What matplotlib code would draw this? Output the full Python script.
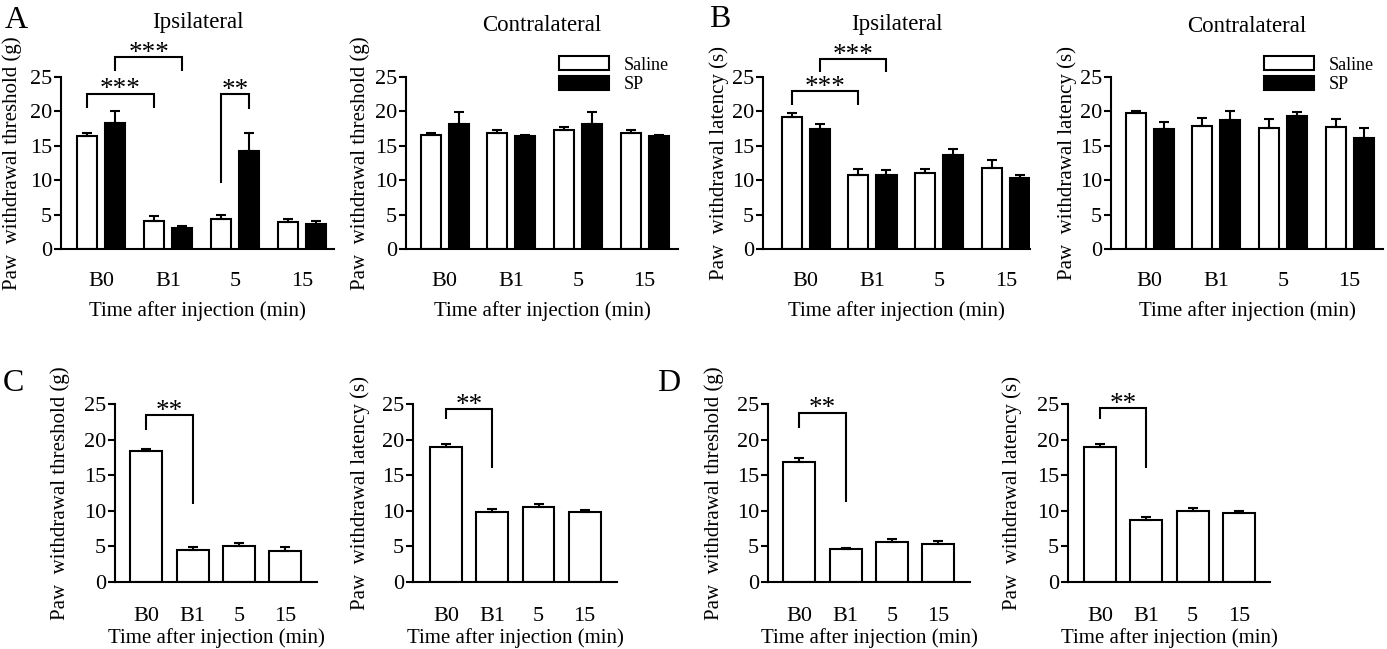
import matplotlib
matplotlib.use('Agg')
import matplotlib.pyplot as plt
import numpy as np
from matplotlib.patches import Patch

plt.rcParams['font.family'] = ['Liberation Serif', 'DejaVu Serif']

# ---------------- data ----------------
categories = ['B0', 'B1', '5', '15']
yticks = [0, 5, 10, 15, 20, 25]

A_ipsi_saline = [16.4, 4.1, 4.4, 3.9]
A_ipsi_saline_err = [0.4, 0.7, 0.6, 0.5]
A_ipsi_sp = [18.3, 3.1, 14.3, 3.7]
A_ipsi_sp_err = [1.8, 0.3, 2.6, 0.35]

A_contra_saline = [16.5, 16.9, 17.3, 16.9]
A_contra_saline_err = [0.4, 0.45, 0.45, 0.45]
A_contra_sp = [18.1, 16.4, 18.1, 16.4]
A_contra_sp_err = [1.8, 0.2, 1.8, 0.15]

B_ipsi_saline = [19.2, 10.8, 11.1, 11.8]
B_ipsi_saline_err = [0.5, 0.8, 0.6, 1.1]
B_ipsi_sp = [17.4, 10.7, 13.7, 10.3]
B_ipsi_sp_err = [0.8, 0.8, 0.9, 0.5]

B_contra_saline = [19.75, 17.9, 17.6, 17.8]
B_contra_saline_err = [0.25, 1.2, 1.25, 1.15]
B_contra_sp = [17.5, 18.8, 19.3, 16.2]
B_contra_sp_err = [0.9, 1.2, 0.6, 1.4]

C_threshold = [18.4, 4.5, 5.0, 4.4]
C_threshold_err = [0.35, 0.35, 0.45, 0.45]
C_latency = [18.9, 9.8, 10.6, 9.9]
C_latency_err = [0.45, 0.4, 0.35, 0.2]

D_threshold = [16.9, 4.6, 5.65, 5.4]
D_threshold_err = [0.45, 0.2, 0.35, 0.35]
D_latency = [19.0, 8.7, 10.0, 9.7]
D_latency_err = [0.35, 0.4, 0.45, 0.25]

# significance brackets: (group1, series1, group2, series2, top, left end, right end, label)
A_ipsi_sig = [(0, 0, 1, 0, 22.6, 20.5, 20.5, '***'),
              (0, 1, 1, 1, 27.9, 25.9, 25.9, '***'),
              (2, 0, 2, 1, 22.5, 9.6, 20.4, '**')]
B_ipsi_sig = [(0, 0, 1, 0, 23.0, 20.9, 20.9, '***'),
              (0, 1, 1, 1, 27.6, 25.7, 25.7, '***')]
C_thr_sig = [(0, 0, 1, 0, 23.4, 21.3, 10.9, '**')]
C_lat_sig = [(0, 0, 1, 0, 24.3, 22.9, 16.0, '**')]
D_thr_sig = [(0, 0, 1, 0, 23.8, 21.6, 11.3, '**')]
D_lat_sig = [(0, 0, 1, 0, 24.4, 22.9, 16.0, '**')]

series_names = ['Saline', 'SP']
xlabel = 'Time after injection (min)'
ylab_thr = 'Paw  withdrawal threshold (g)'
ylab_lat = 'Paw  withdrawal latency (s)'

# ---------------- figure ----------------
W, H = 1387, 649
fig = plt.figure(figsize=(W / 100, H / 100), dpi=100)
LW = 1.5


def add_ax(l, t, r, b):
    return fig.add_axes([l / W, 1 - b / H, (r - l) / W, (b - t) / H])


def style(ax, xlim, ylabel, ylab_x, xlab_top, tickpad):
    ax.set_xlim(*xlim)
    ax.set_ylim(0, 25)
    for s in ['top', 'right']:
        ax.spines[s].set_visible(False)
    for s in ['left', 'bottom']:
        ax.spines[s].set_linewidth(LW)
    ax.set_yticks(yticks)
    ax.set_xticks(np.arange(len(categories)))
    ax.set_xticklabels(categories)
    ax.tick_params(axis='y', direction='out', length=5, width=LW, pad=1.5, labelsize=16)
    ax.tick_params(axis='x', length=0, pad=tickpad, labelsize=16)
    ax.set_ylabel(ylabel, fontsize=15)
    ax.set_xlabel(xlabel, fontsize=15)
    bb = ax.get_position()
    ax.yaxis.set_label_coords(ylab_x / W, (bb.y0 + bb.y1) / 2, transform=fig.transFigure)
    ax.xaxis.set_label_coords((bb.x0 + bb.x1) / 2, 1 - xlab_top / H, transform=fig.transFigure)


def bracket(ax, xs, sig):
    for g1, s1, g2, s2, top, e1, e2, lab in sig:
        x1 = xs[s1][g1]
        x2 = xs[s2][g2]
        ax.plot([x1, x1, x2, x2], [e1, top, top, e2], color='black', lw=LW,
                clip_on=False, solid_capstyle='butt', solid_joinstyle='miter')
        ax.annotate(lab, xy=((x1 + x2) / 2, top), xytext=(0, -2.0),
                    textcoords='offset points', ha='center', va='baseline',
                    fontsize=19.5, annotation_clip=False)


def grouped(ax, saline, saline_err, sp, sp_err, off=0.21, w=0.3):
    x = np.arange(len(categories))
    xs = [x - off, x + off]
    ax.bar(xs[0], saline, w, color='white', edgecolor='black', linewidth=LW, zorder=2)
    ax.bar(xs[1], sp, w, color='black', edgecolor='black', linewidth=LW, zorder=2)
    for xx, v, e in [(xs[0], saline, saline_err), (xs[1], sp, sp_err)]:
        ax.errorbar(xx, v, yerr=[np.zeros(len(v)), e], fmt='none', ecolor='black',
                    elinewidth=LW, capsize=3.5, capthick=LW, zorder=3)
    return xs


def single(ax, vals, errs, w=0.69):
    x = np.arange(len(categories))
    ax.bar(x, vals, w, color='white', edgecolor='black', linewidth=LW, zorder=2)
    ax.errorbar(x, vals, yerr=[np.zeros(len(vals)), errs], fmt='none', ecolor='black',
                elinewidth=LW, capsize=3.5, capthick=LW, zorder=3)
    return [x]


def legend(ax):
    handles = [Patch(facecolor='white', edgecolor='black', linewidth=LW),
               Patch(facecolor='black', edgecolor='black', linewidth=LW)]
    ax.legend(handles, series_names, loc='upper left', bbox_to_anchor=(0.5625, 1.12),
              frameon=False, fontsize=13, handlelength=2.75, handleheight=0.8,
              handletextpad=0.85, labelspacing=0.15, borderpad=0, borderaxespad=0)


def title(ax, text, base_px):
    bb = ax.get_position()
    fig.text((bb.x0 + bb.x1) / 2, 1 - base_px / H, text, ha='center', va='baseline', fontsize=16.5)


# ---- Row 1 ----
axA1 = add_ax(61, 77, 334, 249)
style(axA1, (-0.6, 3.48), ylab_thr, 22, 301, 16.5)
xs = grouped(axA1, A_ipsi_saline, A_ipsi_saline_err, A_ipsi_sp, A_ipsi_sp_err)
bracket(axA1, xs, A_ipsi_sig)
title(axA1, 'Ipsilateral', 28)

axA2 = add_ax(406, 77, 678, 249)
style(axA2, (-0.58, 3.5), ylab_thr, 370, 301, 16.5)
grouped(axA2, A_contra_saline, A_contra_saline_err, A_contra_sp, A_contra_sp_err)
legend(axA2)
title(axA2, 'Contralateral', 31)

axB1 = add_ax(763, 77, 1030, 249)
style(axB1, (-0.64, 3.36), ylab_lat, 729, 301, 16.5)
xs = grouped(axB1, B_ipsi_saline, B_ipsi_saline_err, B_ipsi_sp, B_ipsi_sp_err)
bracket(axB1, xs, B_ipsi_sig)
title(axB1, 'Ipsilateral', 30)

axB2 = add_ax(1111, 77, 1383, 249)
style(axB2, (-0.58, 3.5), ylab_lat, 1077, 301, 16.5)
grouped(axB2, B_contra_saline, B_contra_saline_err, B_contra_sp, B_contra_sp_err)
legend(axB2)
title(axB2, 'Contralateral', 32)

# ---- Row 2 ----
axC1 = add_ax(115, 404, 317, 582)
style(axC1, (-0.67, 3.68), ylab_thr, 70, 628, 18)
xs = single(axC1, C_threshold, C_threshold_err)
bracket(axC1, xs, C_thr_sig)

axC2 = add_ax(413, 404, 617, 582)
style(axC2, (-0.72, 3.7), ylab_lat, 370, 628, 18)
xs = single(axC2, C_latency, C_latency_err)
bracket(axC2, xs, C_lat_sig)

axD1 = add_ax(768, 404, 970, 582)
style(axD1, (-0.67, 3.68), ylab_thr, 724, 628, 18)
xs = single(axD1, D_threshold, D_threshold_err)
bracket(axD1, xs, D_thr_sig)

axD2 = add_ax(1068, 404, 1270, 582)
style(axD2, (-0.69, 3.67), ylab_lat, 1022, 628, 18)
xs = single(axD2, D_latency, D_latency_err)
bracket(axD2, xs, D_lat_sig)

# panel letters
for letter, xp, yp in [('A', 5, 28), ('B', 709, 27), ('C', 3, 391), ('D', 657, 391)]:
    fig.text(xp / W, 1 - yp / H, letter, ha='left', va='baseline', fontsize=23)

fig.savefig('out.png', dpi=100)
